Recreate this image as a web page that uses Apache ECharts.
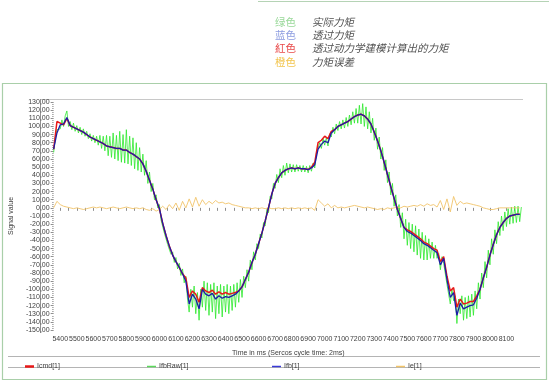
<!DOCTYPE html>
<html><head><meta charset="utf-8">
<script src="https://cdn.jsdelivr.net/npm/echarts@6/dist/echarts.min.js"></script>
<style>html,body{margin:0;padding:0;background:#fff}#c{width:549px;height:382px}</style>
</head><body><div id="c"></div>
<script>
// time base: Icmd/Ifb/Ie sampled every 20 ms, IfbRaw every 10 ms, from 5360 ms
const tStart = 5360, tStep = 20, tStepRaw = 10;
const ifb = [72,92,102,103,111,101,99,97,95,93,90,87,85,83,81,79,76,75,74,73,73,71,71,68,66,63,60,54,45,34,23,10,-1,-19,-34,-47,-58,-66,-73,-81,-90,-118,-106,-112,-124,-100,-106,-108,-105,-112,-108,-111,-109,-110,-108,-106,-102,-97,-88,-79,-67,-57,-44,-31,-16,0,17,30,37,43,46,48,49,48,49,48,48,47,49,53,72,78,82,80,92,96,100,102,104,106,109,112,114,115,113,109,103,93,82,70,56,41,26,12,-2,-13,-24,-29,-31,-34,-37,-40,-44,-46,-49,-52,-55,-70,-62,-88,-110,-104,-132,-117,-124,-122,-120,-119,-111,-100,-86,-73,-58,-45,-33,-24,-18,-13,-10,-9,-8,-8];
const icmd = [72,106,104,102,110,101,99,97,95,93,90,87,85,83,81,79,76,75,74,73,73,71,71,68,66,63,60,54,45,34,23,10,-1,-19,-34,-47,-58,-66,-73,-81,-86,-110,-102,-106,-116,-98,-102,-104,-101,-106,-103,-106,-104,-106,-105,-104,-102,-97,-88,-79,-67,-57,-44,-31,-16,0,17,30,37,43,46,48,49,48,49,48,48,47,50,56,80,83,88,85,94,96,100,102,104,106,109,112,114,115,113,109,103,93,82,70,56,41,26,12,-2,-13,-24,-27,-29,-32,-35,-38,-42,-44,-47,-50,-52,-66,-60,-84,-102,-98,-122,-112,-118,-117,-115,-115,-108,-100,-86,-73,-58,-45,-33,-24,-18,-13,-10,-9,-8,-8];
const ifbRaw = [68,86,96,94,97,108,100,113,119,100,106,96,104,94,101,92,99,90,97,88,94,85,91,82,89,80,88,77,89,73,88,70,89,64,88,62,92,60,89,58,94,56,90,55,96,54,88,52,86,48,80,46,74,44,66,40,58,30,44,20,30,10,16,0,4,-15,-14,-31,-30,-45,-43,-57,-54,-67,-61,-75,-68,-83,-75,-92,-84,-112,-128,-100,-122,-96,-130,-104,-138,-100,-122,-90,-126,-92,-132,-94,-128,-92,-136,-96,-130,-94,-134,-96,-128,-94,-130,-96,-126,-94,-122,-92,-116,-88,-110,-84,-98,-76,-90,-64,-76,-54,-64,-44,-50,-32,-37,-18,-22,-2,-6,14,11,30,24,41,31,48,37,52,40,55,43,54,44,53,44,53,45,52,44,52,44,51,43,52,45,55,49,67,68,80,73,85,77,86,76,91,87,99,91,103,95,106,97,108,98,111,100,114,102,118,104,122,104,126,103,128,100,124,97,118,92,110,83,98,72,87,60,74,46,59,31,44,16,30,2,16,-10,4,-24,-6,-38,-14,-46,-18,-50,-20,-54,-22,-58,-26,-62,-30,-64,-34,-64,-38,-62,-42,-62,-46,-62,-56,-76,-60,-68,-70,-94,-93,-118,-100,-114,-108,-142,-112,-130,-108,-138,-110,-136,-108,-134,-106,-132,-102,-124,-92,-112,-80,-98,-66,-86,-52,-70,-38,-57,-27,-44,-17,-34,-10,-28,-5,-23,-1,-20,1,-19,2,-18,2,-17,1];
const ie = [0,8,4,2,1,0,-1,0,-1,-2,-1,0,1,0,1,0,-1,0,1,0,-1,0,1,0,-1,0,-1,0,-2,-3,-1,-4,-2,2,-2,4,-1,6,-3,8,0,11,1,13,2,10,4,8,5,9,6,7,5,6,4,3,2,1,0,0,-1,0,-1,0,-1,0,-1,-1,0,-1,0,-1,0,-1,0,-1,0,-1,0,-3,10,6,2,5,0,3,0,1,0,1,2,3,2,1,0,1,0,-1,-2,-1,-2,0,-1,0,1,0,2,1,2,3,2,4,2,5,3,4,1,9,-2,11,-5,14,3,8,5,6,5,4,3,2,0,-1,-2,-2,-1,0,0,0,0,0,0,0];
const xTickLabels = [5400,5500,5600,5700,5800,5900,6000,6100,6200,6300,6400,6500,6600,6700,6800,6900,7000,7100,7200,7300,7400,7500,7600,7700,7800,7900,8000,8100];
const xMinorTicks = [5400,5450,5500,5550,5600,5650,5700,5750,5800,5850,5900,5950,6000,6050,6100,6150,6200,6250,6300,6350,6400,6450,6500,6550,6600,6650,6700,6750,6800,6850,6900,6950,7000,7050,7100,7150,7200,7250,7300,7350,7400,7450,7500,7550,7600,7650,7700,7750,7800,7850,7900,7950,8000,8050,8100,8150];
const seriesNames = ['Icmd[1]','IfbRaw[1]','Ifb[1]','Ie[1]'];
const noteColorWords = ['绿色','蓝色','紅色','橙色'];
const noteTexts = ['实际力矩','透过力矩','透过动力学建模计算出的力矩','力矩误差'];

function pairs(arr, step){ return arr.map((v,i)=>[tStart + i*step, v]); }

const chart = echarts.init(document.getElementById('c'), null, {renderer:'canvas'});
const F = '"Liberation Sans", Arial, sans-serif';
const noteCols = ['#98d898','#8c9ce0','#e84848','#f2c44c'];
const graphics = [
  {type:'rect', shape:{x:2.5,y:83.5,width:544,height:296}, style:{fill:'none', stroke:'#a9cfa9', lineWidth:1.2}, silent:true},
  {type:'line', shape:{x1:258,y1:1.5,x2:549,y2:1.5}, style:{stroke:'#b5d3b5', lineWidth:1.2}, silent:true},
  {type:'line', shape:{x1:40,y1:99.5,x2:523,y2:99.5}, style:{stroke:'#c8c8c8', lineWidth:1}, silent:true},
  {type:'line', shape:{x1:40.5,y1:99,x2:40.5,y2:333}, style:{stroke:'#909090', lineWidth:1}, silent:true},
  {type:'line', shape:{x1:8,y1:356.5,x2:540,y2:356.5}, style:{stroke:'#b4b4b4', lineWidth:1}, silent:true},
  {type:'line', shape:{x1:8,y1:367.5,x2:540,y2:367.5}, style:{stroke:'#b4b4b4', lineWidth:1}, silent:true}
];
const rowsY = [22, 35, 48.5, 62];
for (let i=0;i<4;i++){
  graphics.push({type:'text', x:275, y:rowsY[i], style:{text:noteColorWords[i], fill:noteCols[i], font:'10.5px "Noto Sans CJK SC"', verticalAlign:'middle'}, silent:true});
  graphics.push({type:'text', x:312, y:rowsY[i], style:{text:noteTexts[i], fill:'#505050', font:'italic 10.5px "Noto Sans CJK SC"', verticalAlign:'middle'}, silent:true});
}

const legendX = [20, 142, 267, 391];
const legendCols = ['#e81818','#5cd85c','#3a3ad8','#f2c46a'];
const legends = seriesNames.map((n,i)=>({
  data:[n], left:legendX[i], top:358, icon:'rect', itemWidth:9, itemHeight: i===0?2.5:1.5,
  itemGap:2, textStyle:{fontSize:7, fontFamily:F, color:'#404040', padding:[0,0,0,-2]}, selectedMode:false,
  itemStyle:{color:legendCols[i]}
}));

chart.setOption({
  animation:false,
  backgroundColor:'#ffffff',
  graphic: graphics,
  legend: legends,
  grid:{left:40, right:26, top:102, bottom:52, containLabel:false},
  xAxis:{
    type:'value', min:5360, max:8200,
    name:'Time in ms (Sercos cycle time: 2ms)', nameLocation:'middle', nameGap:20,
    nameTextStyle:{fontSize:7, fontFamily:F, color:'#404040'},
    axisLine:{show:false},
    axisTick:{show:true, customValues:xMinorTicks, length:3, lineStyle:{color:'#909090'}},
    axisLabel:{customValues:xTickLabels, fontSize:7, fontFamily:F, color:'#404040', margin:6,
      hideOverlap:false, formatter:v=>String(v)},
    splitLine:{show:false}
  },
  yAxis:{
    type:'value', min:-150, max:130, interval:10,
    name:'Signal value', nameLocation:'middle', nameGap:28, nameRotate:90,
    nameTextStyle:{fontSize:7, fontFamily:F, color:'#404040'},
    axisLine:{show:false},
    axisTick:{show:true, length:3, lineStyle:{color:'#909090'}},
    minorTick:{show:true, splitNumber:4, length:1.5, lineStyle:{color:'#a0a0a0'}},
    axisLabel:{fontSize:7, fontFamily:F, color:'#404040', margin:4, hideOverlap:false,
      formatter:v=>v.toFixed(2).replace('.',',')},
    splitLine:{show:false}
  },
  series:[
    {name:'IfbRaw[1]', type:'line', data:pairs(ifbRaw, tStepRaw), showSymbol:false, lineStyle:{color:'#2ce82c', width:0.8}, itemStyle:{color:'#5cd85c'}, z:1},
    {name:'Ie[1]', type:'line', data:pairs(ie, tStep), showSymbol:false, lineStyle:{color:'#f2c46a', width:0.9}, itemStyle:{color:'#f2c46a'}, z:2},
    {name:'Icmd[1]', type:'line', data:pairs(icmd, tStep), showSymbol:false, lineStyle:{color:'#e81818', width:1.5}, itemStyle:{color:'#e81818'}, z:3},
    {name:'Ifb[1]', type:'line', data:pairs(ifb, tStep), showSymbol:false, lineStyle:{color:'#1c1ca8', width:1.3}, itemStyle:{color:'#3a3ad8'}, z:4}
  ]
});
</script></body></html>
